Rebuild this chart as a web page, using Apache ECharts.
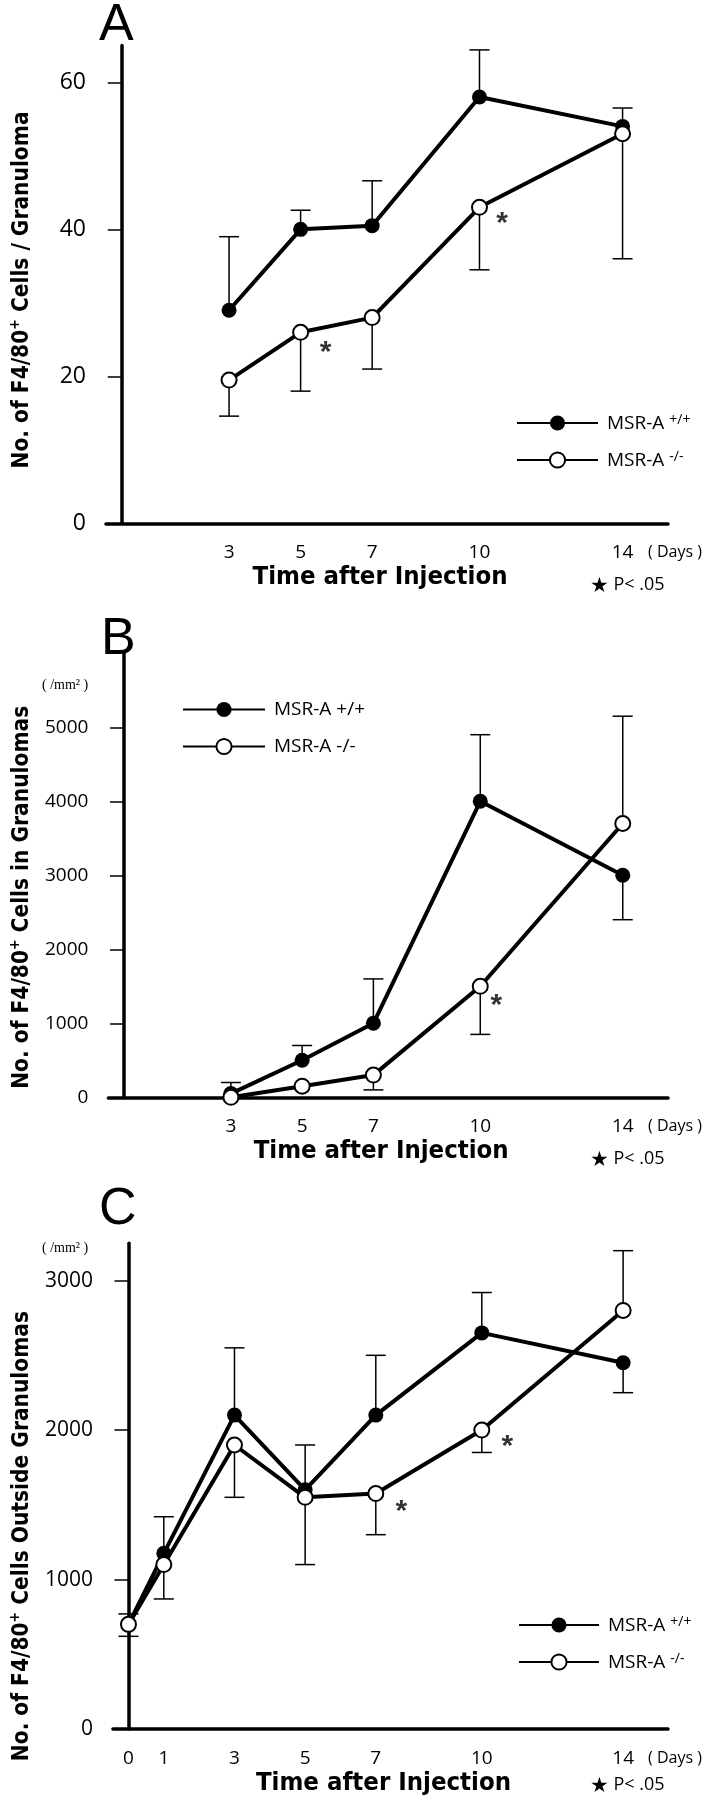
<!DOCTYPE html>
<html>
<head>
<meta charset="utf-8">
<script src="https://cdn.jsdelivr.net/npm/echarts@6/dist/echarts.min.js"></script>
<style>
html,body{margin:0;padding:0;background:#fff;}
#chart{width:708px;height:1800px;}
</style>
</head>
<body>
<div id="chart"></div>
<script>
// ---------- data ----------
const daysAB = [3, 5, 7, 10, 14];
const daysC = [0, 1, 3, 5, 7, 10, 14];
const xLabelsAB = [3, 5, 7, 10, 14];
const xLabelsC = [0, 1, 3, 5, 7, 10, 14];

const yTicksA = [0, 20, 40, 60];
const yTicksB = [0, 1000, 2000, 3000, 4000, 5000];
const yTicksC = [0, 1000, 2000, 3000];

// Panel A: F4/80+ cells per granuloma
const A_wt = [29, 40, 40.5, 58, 54];
const A_wtErr = [39, 42.6, 46.6, 64.4, 56.5];
const A_ko = [19.5, 26, 28, 43, 53];
const A_koErr = [14.6, 18, 21, 34.5, 36];
const A_stars = [[5.7, 24.3], [10.63, 41.8]];

// Panel B: F4/80+ cells in granulomas (/mm2)
const B_wt = [50, 500, 1000, 4000, 3000];
const B_wtErr = [200, 700, 1600, 4900, 2400];
const B_ko = [0, 150, 300, 1500, 3700];
const B_koErr = [null, null, 100, 850, 5150];
const B_stars = [[10.45, 1350]];

// Panel C: F4/80+ cells outside granulomas (/mm2)
const C_wt = [700, 1175, 2100, 1600, 2100, 2650, 2450];
const C_wtErr = [770, 1420, 2550, 1900, 2500, 2920, 2250];
const C_ko = [700, 1100, 1900, 1550, 1575, 2000, 2800];
const C_koErr = [620, 870, 1550, 1100, 1300, 1850, 3200];
const C_stars = [[7.72, 1508], [10.72, 1941]];

const WT = 'MSR-A +/+';
const KO = 'MSR-A -/-';

// ---------- helpers ----------
const LABEL_FONT = "'Open Sans', 'Noto Sans', sans-serif";
const BOLD_FONT = "'DejaVu Sans Condensed', 'DejaVu Sans', sans-serif";

function pairs(days, vals) { return days.map((d, i) => [d, vals[i]]); }
function errData(days, mean, err) {
  const out = [];
  days.forEach((d, i) => { if (err[i] !== null && err[i] !== undefined) out.push([d, mean[i], err[i]]); });
  return out;
}
function errRender(params, api) {
  const x = api.value(0), m = api.value(1), e = api.value(2);
  const p0 = api.coord([x, m]);
  const p1 = api.coord([x, e]);
  return {
    type: 'group',
    children: [
      { type: 'line', shape: { x1: p0[0], y1: p0[1], x2: p1[0], y2: p1[1] }, style: { stroke: '#000', lineWidth: 1.5 } },
      { type: 'line', shape: { x1: p1[0] - 10, y1: p1[1], x2: p1[0] + 10, y2: p1[1] }, style: { stroke: '#000', lineWidth: 1.5 } }
    ]
  };
}

function xAxisFor(gridIndex, labels) {
  return {
    type: 'value', gridIndex: gridIndex, min: -0.44, max: 15.27,
    axisLine: { lineStyle: { color: '#000', width: 3.5 } },
    axisTick: { show: false },
    splitLine: { show: false },
    axisLabel: { customValues: labels, color: '#000', fontFamily: LABEL_FONT, fontSize: 19, margin: 20 },
    name: '{t|Time after Injection}{p|}', nameLocation: 'middle', nameGap: 41,
    nameTextStyle: { rich: {
      t: { color: '#000', fontFamily: BOLD_FONT, fontWeight: 'bold', fontSize: 25.5 },
      p: { width: 14 }
    } }
  };
}
function yAxisFor(gridIndex, max, ticks, fontSize, nameParts, nameGap, shift) {
  return {
    type: 'value', gridIndex: gridIndex, min: 0, max: max,
    axisLine: { onZero: true, lineStyle: { color: '#000', width: 3.5 } },
    axisTick: { customValues: ticks, length: 14, lineStyle: { color: '#000', width: 1.5 } },
    splitLine: { show: false },
    axisLabel: { customValues: ticks, color: '#000', fontFamily: LABEL_FONT, fontSize: fontSize, margin: 20,
      formatter: function (v) { return String(v); } },
    name: '{t|' + nameParts[0] + '}{s|+}{t|' + nameParts[1] + '}',
    nameLocation: 'middle', nameRotate: 90, nameGap: nameGap,
    nameTextStyle: {
      padding: [0, shift, 0, 0],
      rich: {
        t: { fontFamily: BOLD_FONT, fontWeight: 'bold', fontSize: 22.5, color: '#000', verticalAlign: 'bottom', lineHeight: 26 },
        s: { fontFamily: BOLD_FONT, fontWeight: 'bold', fontSize: 14, color: '#000', verticalAlign: 'top', lineHeight: 26 }
      }
    }
  };
}
function lineSeries(name, idx, days, vals, open) {
  return {
    type: 'line', name: name, xAxisIndex: idx, yAxisIndex: idx,
    data: pairs(days, vals),
    symbol: open ? 'emptyCircle' : 'circle', symbolSize: 15,
    lineStyle: { color: '#000', width: 4 },
    itemStyle: { color: '#000', borderColor: '#000', borderWidth: open ? 1.5 : 0 },
    z: 3, animation: false
  };
}
function errSeries(idx, days, mean, err) {
  return {
    type: 'custom', xAxisIndex: idx, yAxisIndex: idx, renderItem: errRender,
    data: errData(days, mean, err), encode: { x: 0, y: [1, 2] }, z: 2, silent: true, animation: false
  };
}
function starSeries(idx, stars) {
  return {
    type: 'scatter', xAxisIndex: idx, yAxisIndex: idx, data: stars, symbolSize: 1,
    itemStyle: { color: 'rgba(0,0,0,0)' }, silent: true, animation: false,
    label: { show: true, position: 'inside', formatter: '*', offset: [0, 8], color: '#000',
      fontFamily: "'Liberation Sans', sans-serif", fontWeight: 'bold', fontSize: 30 }
  };
}
const legendRichSup = {
  m: { fontFamily: LABEL_FONT, fontSize: 19, color: '#000', verticalAlign: 'bottom', lineHeight: 20 },
  s: { fontFamily: LABEL_FONT, fontSize: 14, color: '#000', verticalAlign: 'top', lineHeight: 20 }
};
function supLegendFormatter(n) {
  return n === WT ? '{m|MSR-A }{s|+/+}' : '{m|MSR-A }{s|-/-}';
}
function pText(top) {
  return { type: 'text', left: 590, top: top, style: {
    text: '{st|★}{t| P< .05}',
    rich: {
      st: { fontFamily: "'DejaVu Sans', sans-serif", fontSize: 21, fill: '#000', verticalAlign: 'bottom', lineHeight: 24 },
      t: { fontFamily: LABEL_FONT, fontSize: 18, fill: '#000', verticalAlign: 'middle', lineHeight: 24 }
    } } };
}
function daysText(top) {
  return { type: 'text', left: 648, top: top, style: { text: '( Days )', font: "16px 'Open Sans', sans-serif", fill: '#000' } };
}

const option = {
  backgroundColor: '#fff',
  animation: false,
  grid: [
    { left: 93, width: 575, top: 45.5, height: 478 },
    { left: 93, width: 575, top: 653.3, height: 444 },
    { left: 93, width: 575, top: 1243.2, height: 485.8 }
  ],
  xAxis: [xAxisFor(0, xLabelsAB), xAxisFor(1, xLabelsAB), xAxisFor(2, xLabelsC)],
  yAxis: [
    yAxisFor(0, 65, yTicksA, 23, ['No. of F4/80', ' Cells / Granuloma'], 72, 11),
    yAxisFor(1, 6000, yTicksB, 19, ['No. of F4/80', ' Cells in Granulomas'], 72, 44),
    yAxisFor(2, 3250, yTicksC, 21, ['No. of F4/80', ' Cells Outside Granulomas'], 72, 100)
  ],
  legend: [
    { data: [WT, KO], orient: 'vertical', left: 516, top: 413, padding: 0, itemWidth: 81, itemHeight: 19, itemGap: 17,
      selectedMode: false, formatter: supLegendFormatter, textStyle: { rich: legendRichSup, padding: [0, 0, 0, 4] } },
    { data: [WT, KO], orient: 'vertical', left: 182, top: 700, padding: 0, itemWidth: 82, itemHeight: 19, itemGap: 18,
      selectedMode: false, textStyle: { fontFamily: LABEL_FONT, fontSize: 19, color: '#000', padding: [0, 0, 0, 4] } },
    { data: [WT, KO], orient: 'vertical', left: 518, top: 1615, padding: 0, itemWidth: 80, itemHeight: 19, itemGap: 17,
      selectedMode: false, formatter: supLegendFormatter, textStyle: { rich: legendRichSup, padding: [0, 0, 0, 4] } }
  ],
  graphic: [
    { type: 'text', left: 99, top: 0, style: { text: 'A', font: "52px 'Liberation Sans', sans-serif", fill: '#000' } },
    { type: 'text', left: 101, top: 614, style: { text: 'B', font: "52px 'Liberation Sans', sans-serif", fill: '#000' } },
    { type: 'text', left: 99, top: 1184, style: { text: 'C', font: "52px 'Liberation Sans', sans-serif", fill: '#000' } },
    { type: 'text', left: 42, top: 678, style: { text: '( /mm² )', font: "14px 'Liberation Serif', serif", fill: '#000' } },
    { type: 'text', left: 42, top: 1241, style: { text: '( /mm² )', font: "14px 'Liberation Serif', serif", fill: '#000' } },
    daysText(544), daysText(1118), daysText(1750),
    pText(576), pText(1150), pText(1776)
  ],
  series: [
    errSeries(0, daysAB, A_wt, A_wtErr), errSeries(0, daysAB, A_ko, A_koErr),
    lineSeries(WT, 0, daysAB, A_wt, false), lineSeries(KO, 0, daysAB, A_ko, true),
    starSeries(0, A_stars),
    errSeries(1, daysAB, B_wt, B_wtErr), errSeries(1, daysAB, B_ko, B_koErr),
    lineSeries(WT, 1, daysAB, B_wt, false), lineSeries(KO, 1, daysAB, B_ko, true),
    starSeries(1, B_stars),
    errSeries(2, daysC, C_wt, C_wtErr), errSeries(2, daysC, C_ko, C_koErr),
    lineSeries(WT, 2, daysC, C_wt, false), lineSeries(KO, 2, daysC, C_ko, true),
    starSeries(2, C_stars)
  ]
};

const chart = echarts.init(document.getElementById('chart'), null, { renderer: 'canvas', width: 708, height: 1800 });
chart.setOption(option);
</script>
</body>
</html>
